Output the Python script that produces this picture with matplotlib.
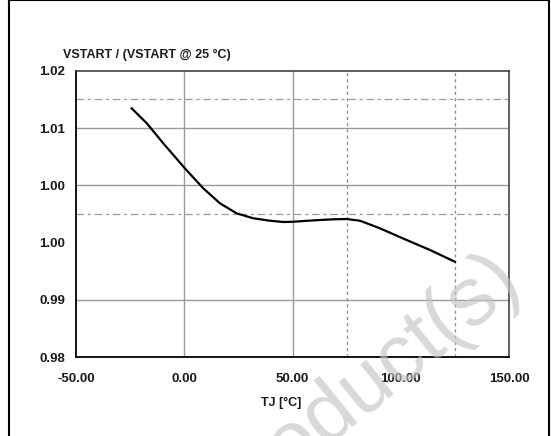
import numpy as np
import matplotlib.pyplot as plt

plt.rcParams['font.family'] = ['Liberation Sans', 'DejaVu Sans']

# curve
tj = [-24.3, -17.3, -9.7, 0.3, 8.8, 16.5, 24.2, 31.9, 39.6, 46.0, 50.4, 56.5,
      62.7, 69.0, 75.0, 81.2, 90.4, 102.7, 113.5, 125.0]
vratio = [1.01475, 1.01266, 1.00987, 1.00637, 1.00358, 1.00149, 1.00009, 0.99940, 0.99906,
          0.99888, 0.99892, 0.99905, 0.99916, 0.99926, 0.99930, 0.99906, 0.99800, 0.99637,
          0.99498, 0.99334]

x_ticks = [-50, 0, 50, 100, 150]
y_ticks = [0.98, 0.988, 0.996, 1.004, 1.012, 1.02]
x_grid = [0, 50]
y_grid = [0.988, 1.004, 1.012]
x_dash = [75, 125]
y_dash = [1.000, 1.016]

fig = plt.figure(figsize=(5.51, 4.36), dpi=100)
ax = fig.add_axes([76/551, 1-357.3/436, (509-76)/551, (357.3-70.7)/436])

ax.set_xlim(-50, 150)
ax.set_ylim(0.98, 1.02)

for xx in x_grid:
    ax.axvline(xx, color='#9a9a9a', lw=1.0, zorder=1)
for yy in y_grid:
    ax.axhline(yy, color='#9a9a9a', lw=1.0, zorder=1)
for yy in y_dash:
    ax.axhline(yy, color='#9a9a9a', lw=0.9, dashes=(6, 3, 2.5, 3), zorder=1)
for xx in x_dash:
    ax.axvline(xx, color='#8a8a8a', lw=0.9, dashes=(2.5, 2.5), zorder=1)

ax.plot(tj, vratio, color='black', lw=1.6, zorder=3, solid_joinstyle='round')

ax.set_xticks(x_ticks)
ax.set_xticklabels(['{0:.2f}'.format(v) for v in x_ticks])
ax.set_yticks(y_ticks)
ax.set_yticklabels(['{0:.2f}'.format(v) for v in y_ticks])
ax.set_xticks(x_grid, minor=True)
ax.tick_params(axis='both', which='major', length=0, labelsize=9.5)
ax.tick_params(axis='x', which='major', pad=11)
ax.tick_params(axis='y', which='major', pad=8)
ax.tick_params(axis='x', which='minor', length=4, width=1, color='#444444', direction='out')
for lab in ax.get_xticklabels() + ax.get_yticklabels():
    lab.set_fontweight('bold')
    lab.set_color('#1a1a1a')

for side in ['left', 'bottom']:
    ax.spines[side].set_linewidth(1.3)
    ax.spines[side].set_color('black')
for side in ['top', 'right']:
    ax.spines[side].set_linewidth(1.1)
    ax.spines[side].set_color('#333333')

fig.text(63/551, 1-55/436, 'VSTART / (VSTART @ 25 °C)', fontsize=9, fontweight='bold',
         ha='left', va='center', color='#1a1a1a')
fig.text(281/551, 1-403/436, 'TJ [°C]', fontsize=9, fontweight='bold',
         ha='center', va='center', color='#1a1a1a')

# watermark
fig.text(360/551, 1-388/436, 'Product(s)', fontsize=60, color='#c4c4c4', alpha=0.65,
         rotation=39, ha='center', va='center', zorder=10)

# outer frame
fig.add_artist(plt.Line2D([9/551, 9/551], [0, 1], color='black', lw=1.5, transform=fig.transFigure))
fig.add_artist(plt.Line2D([549/551, 549/551], [0, 1], color='black', lw=1.5, transform=fig.transFigure))
fig.add_artist(plt.Line2D([9/551, 549/551], [0.999, 0.999], color='black', lw=1.5, transform=fig.transFigure))

fig.savefig('out.png', dpi=100)
